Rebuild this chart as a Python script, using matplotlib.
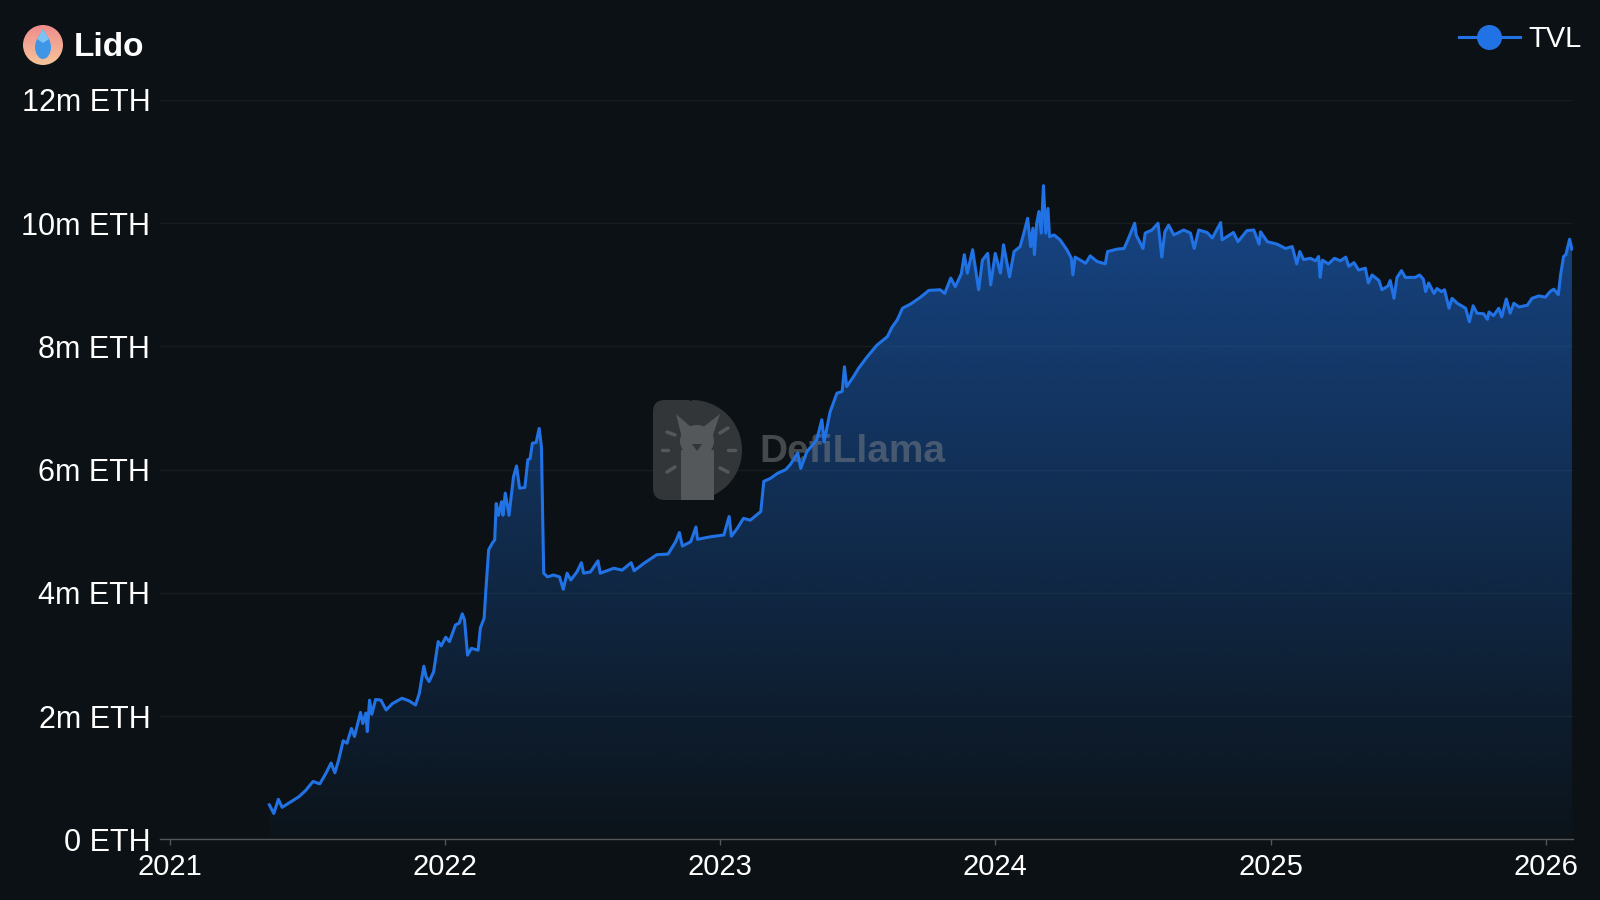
#!/usr/bin/env python3
import numpy as np
import pandas as pd
import matplotlib
matplotlib.use("Agg")
import matplotlib.pyplot as plt
import matplotlib.dates as mdates
import matplotlib.transforms as mtransforms
from matplotlib.colors import to_rgb
from matplotlib.lines import Line2D
from matplotlib.patches import Circle, FancyBboxPatch, Wedge, Ellipse, Rectangle, Polygon, PathPatch
from matplotlib.path import Path

# --------------------
# DATA (TVL in million ETH)
# --------------------
dates_2021 = ["2021-05-13", "2021-05-19", "2021-05-25", "2021-05-30", "2021-06-08", "2021-06-21",
              "2021-06-30", "2021-07-10", "2021-07-19", "2021-07-27", "2021-08-03", "2021-08-08",
              "2021-08-13", "2021-08-19", "2021-08-24", "2021-08-30", "2021-09-03", "2021-09-11",
              "2021-09-14", "2021-09-18", "2021-09-20", "2021-09-23", "2021-09-26", "2021-10-01",
              "2021-10-08", "2021-10-15", "2021-10-23", "2021-11-05", "2021-11-14", "2021-11-23",
              "2021-11-28", "2021-12-04", "2021-12-07", "2021-12-11", "2021-12-17", "2021-12-23",
              "2021-12-27"]
eth_2021 = [0.56, 0.42, 0.65, 0.52, 0.59, 0.69,
            0.79, 0.94, 0.90, 1.07, 1.24, 1.08,
            1.29, 1.60, 1.56, 1.80, 1.67, 2.06,
            1.88, 2.05, 1.75, 2.26, 2.03, 2.27,
            2.26, 2.10, 2.20, 2.29, 2.25, 2.18,
            2.37, 2.81, 2.64, 2.56, 2.72, 3.21,
            3.14]

dates_2022 = ["2022-01-02", "2022-01-07", "2022-01-15", "2022-01-20", "2022-01-24", "2022-01-27",
              "2022-01-31", "2022-02-05", "2022-02-14", "2022-02-17", "2022-02-22", "2022-02-24",
              "2022-02-28", "2022-03-05", "2022-03-08", "2022-03-10", "2022-03-13", "2022-03-17",
              "2022-03-19", "2022-03-22", "2022-03-27", "2022-04-02", "2022-04-06", "2022-04-10",
              "2022-04-17", "2022-04-21", "2022-04-24", "2022-04-27", "2022-05-02", "2022-05-06",
              "2022-05-09", "2022-05-12", "2022-05-17", "2022-05-25", "2022-06-02", "2022-06-07",
              "2022-06-12", "2022-06-17", "2022-06-25", "2022-07-01", "2022-07-04", "2022-07-13",
              "2022-07-23", "2022-07-26", "2022-08-13", "2022-08-24", "2022-09-05", "2022-09-09",
              "2022-09-22", "2022-10-09", "2022-10-24", "2022-11-03", "2022-11-08", "2022-11-12",
              "2022-11-23", "2022-11-30", "2022-12-02", "2022-12-19"]
eth_2022 = [3.28, 3.21, 3.48, 3.51, 3.66, 3.56,
            2.99, 3.10, 3.07, 3.43, 3.59, 3.99,
            4.70, 4.81, 4.86, 5.45, 5.26, 5.48,
            5.26, 5.62, 5.26, 5.89, 6.06, 5.70,
            5.71, 6.16, 6.18, 6.43, 6.44, 6.67,
            6.37, 4.32, 4.26, 4.29, 4.26, 4.06,
            4.32, 4.21, 4.34, 4.49, 4.32, 4.34,
            4.52, 4.32, 4.40, 4.37, 4.49, 4.36,
            4.48, 4.62, 4.63, 4.83, 4.98, 4.76,
            4.83, 5.07, 4.87, 4.91]

dates_2023 = ["2023-01-06", "2023-01-13", "2023-01-16", "2023-01-24", "2023-02-01", "2023-02-10",
              "2023-02-24", "2023-02-28", "2023-03-09", "2023-03-18", "2023-03-29", "2023-04-04",
              "2023-04-14", "2023-04-18", "2023-04-26", "2023-05-09", "2023-05-16", "2023-05-19",
              "2023-05-27", "2023-06-05", "2023-06-12", "2023-06-15", "2023-06-18", "2023-06-27",
              "2023-07-04", "2023-07-15", "2023-07-28", "2023-08-11", "2023-08-17", "2023-08-24",
              "2023-08-31", "2023-09-11", "2023-09-24", "2023-10-05", "2023-10-20", "2023-10-26",
              "2023-11-03", "2023-11-09", "2023-11-17", "2023-11-21", "2023-11-25", "2023-12-02",
              "2023-12-10", "2023-12-15", "2023-12-22", "2023-12-26"]
eth_2023 = [4.94, 5.24, 4.92, 5.05, 5.21, 5.18,
            5.32, 5.81, 5.86, 5.94, 6.00, 6.08,
            6.27, 6.02, 6.29, 6.48, 6.81, 6.45,
            6.94, 7.24, 7.27, 7.67, 7.35, 7.51,
            7.65, 7.83, 8.02, 8.16, 8.31, 8.43,
            8.62, 8.69, 8.80, 8.91, 8.92, 8.86,
            9.11, 8.97, 9.18, 9.49, 9.19, 9.57,
            8.92, 9.40, 9.51, 9.00]

dates_2024 = ["2024-01-01", "2024-01-08", "2024-01-12", "2024-01-20", "2024-01-26", "2024-02-03",
              "2024-02-08", "2024-02-13", "2024-02-17", "2024-02-20", "2024-02-22", "2024-02-25",
              "2024-02-28", "2024-03-02", "2024-03-05", "2024-03-08", "2024-03-11", "2024-03-13",
              "2024-03-19", "2024-03-27", "2024-04-05", "2024-04-11", "2024-04-13", "2024-04-16",
              "2024-04-30", "2024-05-06", "2024-05-15", "2024-05-26", "2024-05-29", "2024-06-11",
              "2024-06-20", "2024-06-26", "2024-07-04", "2024-07-06", "2024-07-15", "2024-07-18",
              "2024-07-27", "2024-08-04", "2024-08-09", "2024-08-13", "2024-08-18", "2024-08-25",
              "2024-09-07", "2024-09-16", "2024-09-21", "2024-09-27", "2024-10-08", "2024-10-15",
              "2024-10-26", "2024-10-28", "2024-11-12", "2024-11-18", "2024-11-30", "2024-12-09",
              "2024-12-16", "2024-12-18", "2024-12-27"]
eth_2024 = [9.51, 9.19, 9.65, 9.13, 9.54, 9.62,
            9.84, 10.08, 9.62, 9.92, 9.49, 10.00,
            10.19, 9.84, 10.61, 9.84, 10.24, 9.78,
            9.81, 9.73, 9.57, 9.43, 9.16, 9.45,
            9.35, 9.47, 9.38, 9.34, 9.54, 9.58,
            9.59, 9.76, 10.00, 9.81, 9.59, 9.84,
            9.89, 10.00, 9.45, 9.86, 9.97, 9.81,
            9.89, 9.84, 9.59, 9.89, 9.85, 9.76,
            10.01, 9.73, 9.85, 9.70, 9.88, 9.89,
            9.66, 9.86, 9.70]

dates_2025 = ["2025-01-09", "2025-01-20", "2025-01-29", "2025-02-04", "2025-02-08", "2025-02-13",
              "2025-02-22", "2025-03-01", "2025-03-05", "2025-03-07", "2025-03-10", "2025-03-18",
              "2025-03-26", "2025-04-03", "2025-04-10", "2025-04-14", "2025-04-21", "2025-04-27",
              "2025-05-06", "2025-05-10", "2025-05-15", "2025-05-24", "2025-05-28", "2025-06-05",
              "2025-06-08", "2025-06-13", "2025-06-17", "2025-06-23", "2025-06-28", "2025-07-11",
              "2025-07-17", "2025-07-22", "2025-07-25", "2025-07-29", "2025-08-05", "2025-08-09",
              "2025-08-15", "2025-08-19", "2025-08-25", "2025-08-29", "2025-09-05", "2025-09-16",
              "2025-09-21", "2025-09-26", "2025-10-01", "2025-10-10", "2025-10-15", "2025-10-17",
              "2025-10-23", "2025-10-30", "2025-11-03", "2025-11-09", "2025-11-14", "2025-11-19",
              "2025-11-26", "2025-12-07", "2025-12-13", "2025-12-22", "2025-12-31"]
eth_2025 = [9.66, 9.59, 9.62, 9.34, 9.54, 9.41,
            9.43, 9.39, 9.46, 9.12, 9.40, 9.34,
            9.43, 9.39, 9.45, 9.30, 9.36, 9.24,
            9.27, 9.03, 9.16, 9.07, 8.92, 8.98,
            9.07, 8.78, 9.12, 9.23, 9.12, 9.12,
            9.16, 9.09, 8.89, 9.03, 8.86, 8.94,
            8.89, 8.92, 8.62, 8.78, 8.70, 8.62,
            8.40, 8.66, 8.54, 8.53, 8.44, 8.56,
            8.50, 8.62, 8.48, 8.77, 8.54, 8.70,
            8.64, 8.67, 8.78, 8.82, 8.80]

dates_2026 = ["2026-01-06", "2026-01-11", "2026-01-17", "2026-01-20", "2026-01-24", "2026-01-27",
              "2026-02-01", "2026-02-04"]
eth_2026 = [8.89, 8.93, 8.84, 9.16, 9.46, 9.49,
            9.74, 9.58]

y_ticks = [0, 2, 4, 6, 8, 10, 12]
x_start, x_end = "2020-12-19", "2026-02-05"

# --------------------
# STYLE
# --------------------
BG = "#0b1114"
LINE = "#2172e5"
GRID = "#161d21"
AXIS = "#51575b"
plt.rcParams["font.family"] = ["Liberation Sans", "DejaVu Sans"]

dates = pd.to_datetime(dates_2021 + dates_2022 + dates_2023 + dates_2024 + dates_2025 + dates_2026)
eth = np.array(eth_2021 + eth_2022 + eth_2023 + eth_2024 + eth_2025 + eth_2026)

fig = plt.figure(figsize=(16, 9), dpi=100, facecolor=BG)
ax = fig.add_axes([0.1, 0.0674, 0.8829, 0.8215])
ax.set_facecolor(BG)

# line on top of a gradient fill
ax.plot(dates, eth, color=LINE, lw=2.2, solid_joinstyle="round", zorder=4)
area = ax.fill_between(dates, eth, 0, facecolor="none", edgecolor="none")

x0 = mdates.date2num(pd.Timestamp(x_start))
x1 = mdates.date2num(pd.Timestamp(x_end))
grad = np.zeros((256, 1, 4))
grad[:, 0, :3] = to_rgb(LINE)
grad[:, 0, 3] = np.linspace(0.03, 0.55, 256)
img = ax.imshow(grad, extent=[x0, x1, 0, eth.max()], origin="lower",
                aspect="auto", zorder=2, interpolation="bilinear")
img.set_clip_path(area.get_paths()[0], transform=ax.transData)

ax.set_xlim(pd.Timestamp(x_start), pd.Timestamp(x_end))
ax.set_ylim(0, 12)

# axes
ax.set_yticks(y_ticks)
ax.yaxis.set_major_formatter(plt.FuncFormatter(lambda v, _: f"{int(v)}m ETH" if v else "0 ETH"))
ax.xaxis.set_major_locator(mdates.YearLocator())
ax.xaxis.set_major_formatter(mdates.DateFormatter("%Y"))
ax.tick_params(axis="y", length=0, pad=7, labelsize=22, labelcolor="white")
ax.tick_params(axis="x", length=4, width=1, color=AXIS, pad=6, labelsize=21, labelcolor="white")
ax.grid(axis="y", color=GRID, lw=1, zorder=0)
ax.set_axisbelow(True)
for side in ["top", "right", "left"]:
    ax.spines[side].set_visible(False)
ax.spines["bottom"].set_color(AXIS)
ax.spines["bottom"].set_linewidth(1)

# --------------------
# DEFILLAMA WATERMARK (figure pixel coords, y down)
# --------------------
pix = mtransforms.Affine2D().scale(1 / 100, -1 / 100).translate(0, 9) + fig.dpi_scale_trans
wm = "#323639"
ax.add_patch(FancyBboxPatch((653, 400), 45, 100, boxstyle="round,pad=0,rounding_size=12",
                            facecolor=wm, edgecolor="none", transform=pix, zorder=3, clip_on=False))
ax.add_patch(Wedge((692, 450), 50, -90, 90, facecolor=wm, edgecolor="none",
                   transform=pix, zorder=3, clip_on=False))
llama = "#54585b"
ax.add_patch(Rectangle((681, 450), 33, 50, facecolor=llama, edgecolor="none",
                       transform=pix, zorder=3, clip_on=False))
ax.add_patch(Ellipse((697, 441), 34, 32, facecolor=llama, edgecolor="none",
                     transform=pix, zorder=3, clip_on=False))
ax.add_patch(Polygon([(676, 414), (692, 428), (682, 438)], facecolor=llama, edgecolor="none",
                     transform=pix, zorder=3, clip_on=False))
ax.add_patch(Polygon([(720, 414), (702, 428), (712, 438)], facecolor=llama, edgecolor="none",
                     transform=pix, zorder=3, clip_on=False))
ax.add_patch(Polygon([(692, 444), (702, 444), (697, 451)], facecolor=wm, edgecolor="none",
                     transform=pix, zorder=3, clip_on=False))
for (a, b) in [((667, 432), (675, 435)), ((662, 450), (668, 450)), ((667, 472), (675, 467)),
               ((720, 433), (728, 428)), ((728, 450), (735, 450)), ((720, 468), (728, 472))]:
    ax.add_line(Line2D([a[0], b[0]], [a[1], b[1]], color=llama, lw=2.5,
                       solid_capstyle="round", transform=pix, zorder=3, clip_on=False))
ax.text(759, 452, "DefiLlama", transform=pix, fontsize=28, fontweight="bold",
        color="#7c8186", alpha=0.5, ha="left", va="center", zorder=3)

# --------------------
# HEADER: logo, title, legend
# --------------------
over = fig.add_axes([0, 0, 1, 1], zorder=10)
over.axis("off")
over.patch.set_visible(False)

cy = 45
logo = Circle((43, cy), 20, transform=over.transData)
lg = np.zeros((64, 64, 3))
t = np.linspace(0, 1, 64)
lg[..., 0] = 0.94 + 0.02 * t[:, None]
lg[..., 1] = 0.55 + 0.22 * t[:, None]
lg[..., 2] = 0.55 + 0.05 * t[:, None]
limg = over.imshow(lg, extent=[23, 63, cy + 20, cy - 20], zorder=1)
over.set_xlim(0, 1600)
over.set_ylim(900, 0)
logo.set_transform(over.transData)
limg.set_clip_path(logo)
d = cy - 43
drop = Path([(43, 27 + d), (45, 31 + d), (51, 38 + d), (51, 45 + d), (51, 52 + d), (47, 57 + d),
             (43, 57 + d), (39, 57 + d), (35, 52 + d), (35, 45 + d), (35, 38 + d), (41, 31 + d),
             (43, 27 + d)],
            [Path.MOVETO] + [Path.CURVE4] * 12)
over.add_patch(PathPatch(drop, facecolor="#3f95e6", edgecolor="none", zorder=2))
top_drop = Path([(43, 27 + d), (49, 37 + d), (43, 41 + d), (37, 37 + d), (43, 27 + d)],
                [Path.MOVETO, Path.LINETO, Path.LINETO, Path.LINETO, Path.CLOSEPOLY])
over.add_patch(PathPatch(top_drop, facecolor="#7cc3f3", edgecolor="none", zorder=3))

fig.text(74 / 1600, 1 - 56 / 900, "Lido", fontsize=24, fontweight="bold",
         color="white", ha="left", va="baseline")

handle = Line2D([], [], color=LINE, lw=2.2, marker="o", markersize=18, markeredgewidth=0)
fig.legend(handles=[handle], labels=["TVL"], loc="upper right",
           bbox_to_anchor=(1582 / 1600, 1 - 25 / 900), frameon=False, fontsize=21,
           labelcolor="white", handlelength=2.1, handletextpad=0.3,
           borderpad=0, borderaxespad=0)

fig.savefig("out.png", dpi=100, facecolor=BG)
